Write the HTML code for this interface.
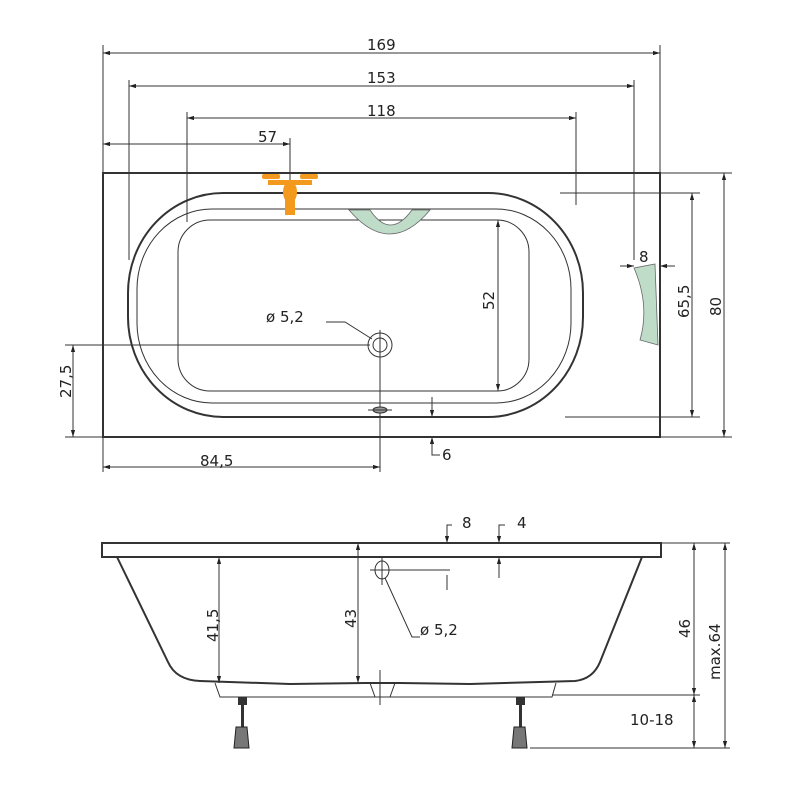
<!DOCTYPE html>
<html><head><meta charset="utf-8"><style>body{margin:0;background:#fff}svg{display:block}text{font-family:"DejaVu Sans","Liberation Sans",sans-serif;font-size:15px;fill:#222}</style></head>
<body>
<svg width="800" height="800" viewBox="0 0 800 800" xmlns="http://www.w3.org/2000/svg">
<defs>
<marker id="a" viewBox="0 0 10 10" refX="10" refY="5" markerWidth="7" markerHeight="7" orient="auto-start-reverse"><path d="M0,2 L10,5 L0,8 z" fill="#222"/></marker>
</defs>
<g stroke="#333" stroke-width="1" fill="none">
<line x1="103" y1="45" x2="103" y2="173"/><line x1="660" y1="45" x2="660" y2="173"/>
<line x1="129" y1="80" x2="129" y2="260"/><line x1="634" y1="80" x2="634" y2="260"/>
<line x1="187" y1="112" x2="187" y2="222"/><line x1="576" y1="112" x2="576" y2="205"/>
<line x1="290" y1="138" x2="290" y2="180"/>
<line x1="103" y1="53" x2="660" y2="53" marker-start="url(#a)" marker-end="url(#a)"/>
<line x1="129" y1="86" x2="634" y2="86" marker-start="url(#a)" marker-end="url(#a)"/>
<line x1="187" y1="118" x2="576" y2="118" marker-start="url(#a)" marker-end="url(#a)"/>
<line x1="103" y1="144" x2="290" y2="144" marker-start="url(#a)" marker-end="url(#a)"/>
<line x1="660" y1="173" x2="732" y2="173"/><line x1="660" y1="437" x2="732" y2="437"/>
<line x1="560" y1="193" x2="700" y2="193"/><line x1="565" y1="417" x2="700" y2="417"/>
<line x1="724" y1="173" x2="724" y2="437" marker-start="url(#a)" marker-end="url(#a)"/>
<line x1="692" y1="193" x2="692" y2="417" marker-start="url(#a)" marker-end="url(#a)"/>
<line x1="498" y1="220" x2="498" y2="391" marker-start="url(#a)" marker-end="url(#a)"/>
<line x1="620" y1="266" x2="634" y2="266" marker-end="url(#a)"/>
<line x1="675" y1="266" x2="660" y2="266" marker-end="url(#a)"/>
<line x1="65" y1="345" x2="370" y2="345"/><line x1="65" y1="437" x2="103" y2="437"/>
<line x1="73" y1="345" x2="73" y2="437" marker-start="url(#a)" marker-end="url(#a)"/>
<line x1="103" y1="437" x2="103" y2="472"/><line x1="380" y1="330" x2="380" y2="472"/>
<line x1="103" y1="467" x2="380" y2="467" marker-start="url(#a)" marker-end="url(#a)"/>
<line x1="432" y1="397" x2="432" y2="417" marker-end="url(#a)"/>
<line x1="432" y1="452" x2="432" y2="437" marker-end="url(#a)"/>
<polyline points="432,452 432,455 440,455"/>
<rect x="103" y="173" width="557" height="264" stroke-width="2"/>
<rect x="128" y="193" width="455" height="224" rx="95" ry="100" stroke-width="2"/>
<rect x="137" y="209" width="434" height="194" rx="75" ry="80"/>
<rect x="178" y="220" width="351" height="171" rx="32" ry="32"/>
<circle cx="380" cy="345" r="12"/><circle cx="380" cy="345" r="7"/>
<polyline points="326,322 345,322 372,339"/>
<ellipse cx="380" cy="410" rx="7" ry="3" fill="#999"/>
<line x1="368" y1="410" x2="392" y2="410"/>
</g>
<g fill="#f39a1e">
<rect x="262" y="174" width="18" height="5" rx="2"/><rect x="300" y="174" width="18" height="5" rx="2"/>
<rect x="268" y="180" width="44" height="5"/>
<ellipse cx="290" cy="192" rx="7" ry="11"/><rect x="285" y="200" width="10" height="15"/>
</g>
<path d="M349,210 Q390,258 430,210 L412,210 Q390,240 370,210 Z" fill="#bfdcc9" stroke="#666" stroke-width="0.8"/>
<path d="M634,268 L655,264 L658,345 L640,340 Q650,305 634,268 Z" fill="#bfdcc9" stroke="#666" stroke-width="0.8"/>
<text x="258" y="142">57</text><text x="367" y="50">169</text><text x="367" y="83">153</text><text x="367" y="116">118</text>
<text x="266" y="322">ø 5,2</text><text x="639" y="262">8</text><text x="200" y="466">84,5</text><text x="442" y="460">6</text>
<text transform="translate(494,310) rotate(-90)">52</text>
<text transform="translate(689,318) rotate(-90)">65,5</text>
<text transform="translate(721,316) rotate(-90)">80</text>
<text transform="translate(71,398) rotate(-90)">27,5</text>
<g stroke="#333" fill="none">
<rect x="102" y="543" width="559" height="14" stroke-width="2"/>
<path d="M117,557 L168,662 Q176,680 200,681 L290,684 L365,683 L400,683 L470,684 L575,681 Q593,679 600,662 L642,557" stroke-width="2"/>
<path d="M215,683 L220,697 L552,697 L556,683"/>
<line x1="370" y1="683" x2="375" y2="697"/><line x1="395" y1="683" x2="390" y2="697"/>
<line x1="380" y1="670" x2="380" y2="705"/>
<line x1="219" y1="557" x2="219" y2="683" marker-start="url(#a)" marker-end="url(#a)"/>
<line x1="358" y1="543" x2="358" y2="683" marker-start="url(#a)" marker-end="url(#a)"/>
<line x1="552" y1="695" x2="700" y2="695"/><line x1="530" y1="748" x2="730" y2="748"/>
<line x1="660" y1="543" x2="730" y2="543"/>
<line x1="694" y1="543" x2="694" y2="695" marker-start="url(#a)" marker-end="url(#a)"/>
<line x1="694" y1="695" x2="694" y2="748" marker-start="url(#a)" marker-end="url(#a)"/>
<line x1="725" y1="543" x2="725" y2="748" marker-start="url(#a)" marker-end="url(#a)"/>
<ellipse cx="382" cy="570" rx="7" ry="9"/>
<line x1="370" y1="570" x2="450" y2="570"/><line x1="382" y1="557" x2="382" y2="585"/>
<line x1="447" y1="575" x2="447" y2="590"/><line x1="447" y1="530" x2="447" y2="543" marker-end="url(#a)"/>
<polyline points="447,530 447,525 452,525"/>
<line x1="499" y1="530" x2="499" y2="543" marker-end="url(#a)"/>
<polyline points="499,530 499,525 505,525"/>
<line x1="499" y1="570" x2="499" y2="557" marker-end="url(#a)"/><line x1="499" y1="570" x2="499" y2="578"/>
<polyline points="385,578 412,637 420,637"/>
</g>
<g fill="#333"><rect x="238" y="697" width="9" height="8"/><rect x="241" y="705" width="3" height="22"/><path d="M236,727 L247,727 L249,748 L234,748Z" fill="#777" stroke="#222"/>
<rect x="516" y="697" width="9" height="8"/><rect x="519" y="705" width="3" height="22"/><path d="M514,727 L525,727 L527,748 L512,748Z" fill="#777" stroke="#222"/></g>
<text x="462" y="528">8</text><text x="517" y="528">4</text><text x="420" y="635">ø 5,2</text><text x="630" y="725">10-18</text>
<text transform="translate(218,642) rotate(-90)">41,5</text>
<text transform="translate(356,628) rotate(-90)">43</text>
<text transform="translate(690,638) rotate(-90)">46</text>
<text transform="translate(720,680) rotate(-90)">max.64</text>
</svg>
</body></html>
